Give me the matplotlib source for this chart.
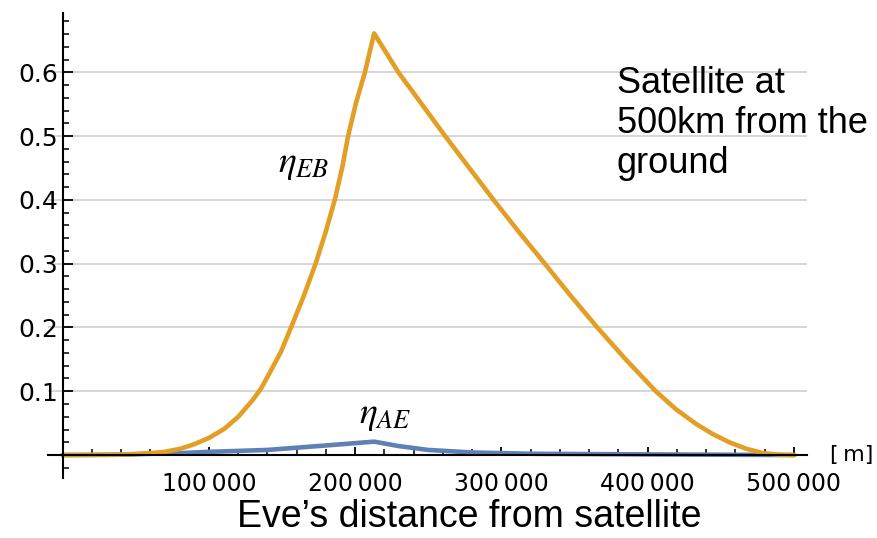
"""
plot.py

Eve 距离卫星时的 eta_EB / eta_AE 曲线（卫星高度 500km）
"""

import matplotlib
matplotlib.use("Agg")
import matplotlib.pyplot as plt
from matplotlib.ticker import MultipleLocator, FuncFormatter

# eta_EB 曲线（从图上读出的点）
eb_x = [0, 40000, 60000, 70000, 80800, 90000, 100200, 110500, 120100, 129900,
        135600, 140200, 149300, 156200, 165000, 173000, 179900, 186100, 191300,
        195200, 200500, 206700, 213000,
        229600, 245600, 261600, 278100, 294700, 311900, 329700, 347300, 365600,
        385000, 405600, 419300, 433000, 444500, 455900, 467300, 478800, 490200,
        500500]
eb_y = [0.0, 0.0005, 0.003, 0.005, 0.010, 0.017, 0.027, 0.041, 0.060, 0.086,
        0.104, 0.123, 0.162, 0.200, 0.250, 0.300, 0.350, 0.400, 0.452,
        0.500, 0.551, 0.600, 0.661,
        0.600, 0.550, 0.500, 0.450, 0.400, 0.350, 0.300, 0.250, 0.200,
        0.150, 0.100, 0.072, 0.049, 0.033, 0.020, 0.010, 0.003, 0.0005,
        0.0]

# eta_AE 曲线
ae_x = [0, 40000, 60000, 80000, 100000, 140000, 180000, 213000, 230000,
        250000, 280000, 320000, 400000, 500000]
ae_y = [0.0, 0.0005, 0.002, 0.003, 0.005, 0.008, 0.015, 0.021, 0.014,
        0.008, 0.004, 0.002, 0.001, 0.0]

x_unit = "[\u2009m]"
x_title = "Eve\u2019s distance from satellite"
note_lines = ["Satellite at", "500km from the", "ground"]

W, H = 877, 538
fig = plt.figure(figsize=(W / 100, H / 100), dpi=100)
plt.rcParams["mathtext.fontset"] = "stix"

# 坐标轴区域（像素换算成比例）
ax = fig.add_axes([48 / W, (H - 478) / H, (807 - 48) / W, (478 - 13) / H])
ax.set_xlim(-10000, 509000)
ax.set_ylim(-0.036, 0.693)

ax.plot(ae_x, ae_y, color="#5E81B5", lw=3.3, solid_capstyle="round", zorder=3)
ax.plot(eb_x, eb_y, color="#E39E26", lw=3.3, solid_capstyle="round",
        solid_joinstyle="round", zorder=4)

# Mathematica 风格：坐标轴交于原点
for side in ["top", "right"]:
    ax.spines[side].set_visible(False)
ax.spines["left"].set_position(("data", 0))
ax.spines["bottom"].set_position(("data", 0))
for side in ["left", "bottom"]:
    ax.spines[side].set_linewidth(1.5)
    ax.spines[side].set_zorder(5)

ax.yaxis.set_major_locator(MultipleLocator(0.1))
ax.yaxis.set_minor_locator(MultipleLocator(0.02))
ax.xaxis.set_major_locator(MultipleLocator(100000))
ax.xaxis.set_minor_locator(MultipleLocator(20000))
ax.yaxis.set_major_formatter(FuncFormatter(lambda v, p: f"{v:.1f}" if v > 0.05 else ""))
ax.xaxis.set_major_formatter(
    FuncFormatter(lambda v, p: f"{int(round(v)):,}".replace(",", "\u2009") if v > 0 else ""))

ax.tick_params(axis="both", which="both", direction="in", color="black")
ax.tick_params(axis="y", which="major", length=7, width=1.3, labelsize=18, pad=3)
ax.tick_params(axis="y", which="minor", length=4, width=1.1)
ax.tick_params(axis="x", which="major", length=6, width=1.3, labelsize=17, pad=12)
ax.tick_params(axis="x", which="minor", length=4, width=1.1)

ax.grid(True, axis="y", which="major", color="#d0d0d0", lw=1.2, zorder=0)
ax.set_axisbelow(True)

ax.text(165000, 0.457, r"$\eta_{EB}$", fontsize=27, ha="center", va="center")
ax.text(220500, 0.063, r"$\eta_{AE}$", fontsize=27, ha="center", va="center")
ax.text(525000, 0.0, x_unit, fontsize=16, ha="left", va="center")

# 右上角说明文字，逐行按基线放置
for i, line in enumerate(note_lines):
    fig.text(617 / W, (H - 93 - 40 * i) / H, line, fontsize=26,
             family="Liberation Sans", ha="left", va="baseline")
fig.text(469 / W, (H - 527) / H, x_title, fontsize=27, family="Liberation Sans",
         ha="center", va="baseline")

fig.savefig("out.png", dpi=100)
plt.close(fig)
